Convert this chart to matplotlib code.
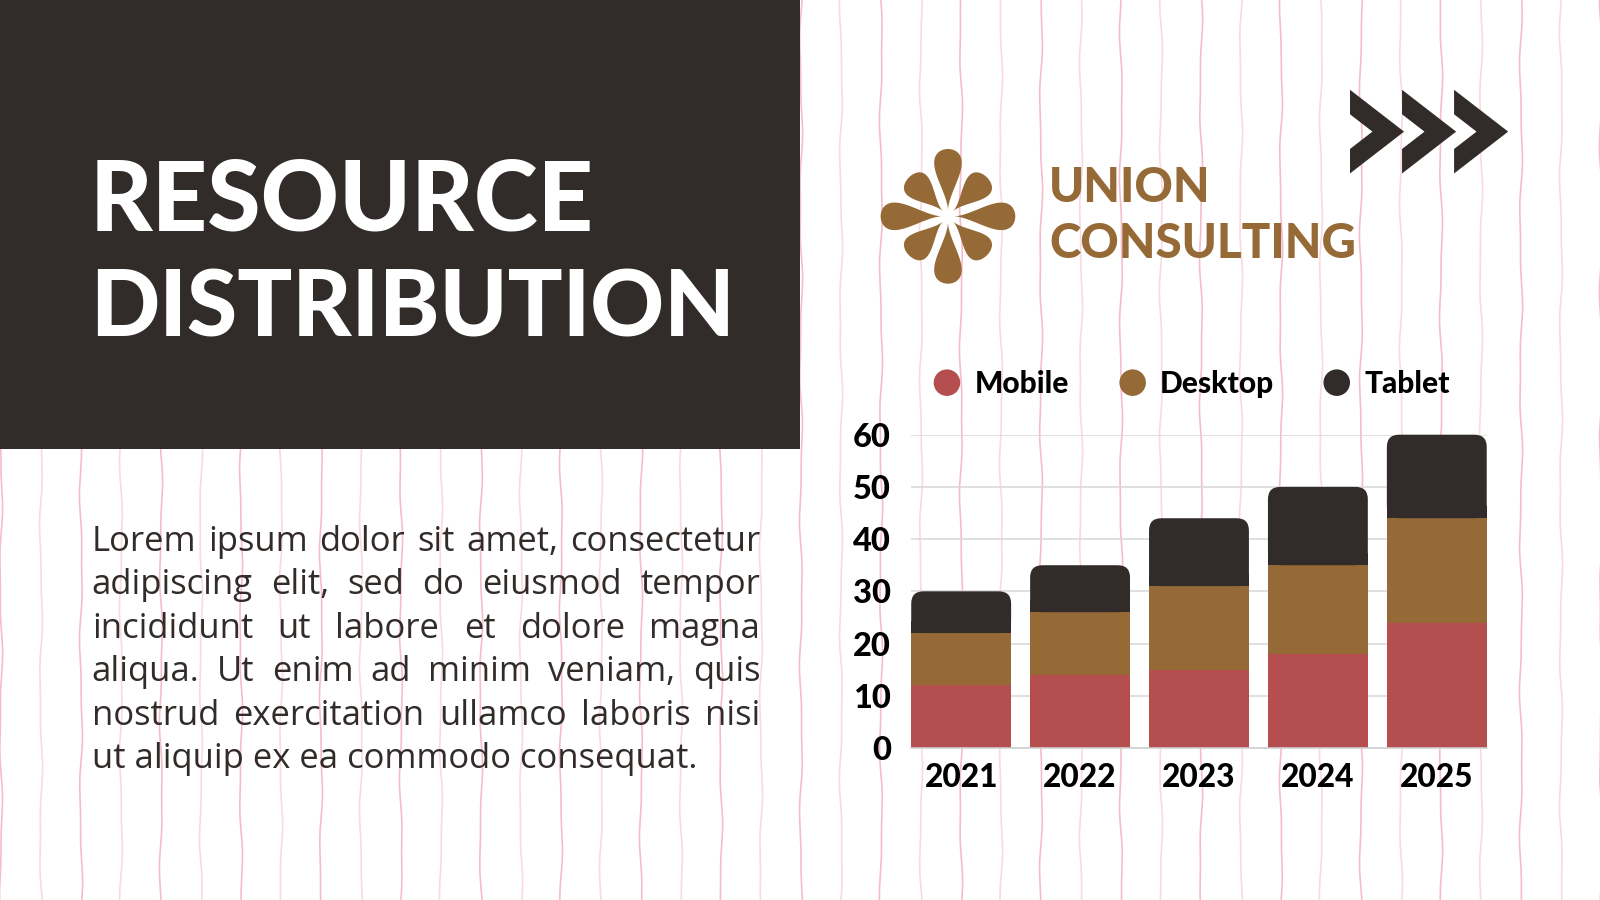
import matplotlib
matplotlib.use('Agg')
import matplotlib.pyplot as plt
import numpy as np
from matplotlib.patches import Rectangle, FancyBboxPatch, Circle, Polygon

# ---------------- data ----------------
years = ['2021', '2022', '2023', '2024', '2025']
mobile = [12, 14, 15, 18, 24]
desktop = [10, 12, 16, 17, 20]
tablet = [8, 9, 13, 15, 16]
series_names = ['Mobile', 'Desktop', 'Tablet']
y_ticks = [0, 10, 20, 30, 40, 50, 60]
title_lines = ['RESOURCE', 'DISTRIBUTION']
brand_lines = ['UNION', 'CONSULTING']
paragraph_lines = [
    "Lorem ipsum dolor sit amet, consectetur",
    "adipiscing elit, sed do eiusmod tempor",
    "incididunt ut labore et dolore magna",
    "aliqua. Ut enim ad minim veniam, quis",
    "nostrud exercitation ullamco laboris nisi",
    "ut aliquip ex ea commodo consequat.",
]

# ---------------- style ----------------
DARK = '#312c29'
BROWN = '#956a36'
RED = '#b54f4f'
series_colors = [RED, BROWN, DARK]
HEAD_FONT = 'Lato'
BODY_FONT = 'Open Sans'

W, H = 1568, 882          # layout coordinate system
fig = plt.figure(figsize=(16, 9), dpi=100)
fig.patch.set_facecolor('white')
S = 1600 / W              # output px per layout px

bg = fig.add_axes([0, 0, 1, 1])
bg.set_xlim(0, W)
bg.set_ylim(H, 0)
bg.axis('off')
renderer = fig.canvas.get_renderer()


def text_w(t):
    return t.get_window_extent(renderer).width / S


def fit(t, target):
    fs0 = t.get_fontsize()
    t.set_fontsize(fs0 * target / text_w(t))
    return t.get_fontsize()


# background hand-drawn pink lines
ys = np.linspace(0, H, 500)
for k in range(41):
    x0 = 1.0 + k * 39.2
    xs = x0 + 1.1 * np.sin(ys / 24.0 + k * 1.7) + 0.5 * np.sin(ys / 11.0 + k * 2.3)
    col = '#f6bccd' if k % 2 == 0 else '#fad9e2'
    bg.plot(xs, ys, color=col, lw=1.2, zorder=0)

# dark panel
bg.add_patch(Rectangle((0, 0), 784, 440, facecolor=DARK, edgecolor='none', zorder=2))

# title
t2 = bg.text(88, 330, title_lines[1], color='white', fontfamily=HEAD_FONT,
             fontweight='black', fontsize=60, va='baseline', ha='left', zorder=3)
fit(t2, 634)
t1 = bg.text(88, 226, title_lines[0], color='white', fontfamily=HEAD_FONT,
             fontweight='black', fontsize=60, va='baseline', ha='left', zorder=3)
fit(t1, 494)

# paragraph (justified)
PX0, PX1 = 90, 745
tmp = bg.text(0, 0, paragraph_lines[-1], fontfamily=BODY_FONT, fontsize=20)
fs_body = 20 * 592 / text_w(tmp)
tmp.remove()
base0, lead = 540, 42.6
for i, line in enumerate(paragraph_lines):
    yb = base0 + i * lead
    if i == len(paragraph_lines) - 1:
        bg.text(PX0, yb, line, fontfamily=BODY_FONT, fontsize=fs_body,
                color=DARK, va='baseline', ha='left', zorder=3)
        continue
    words = line.split(' ')
    objs = []
    widths = []
    for wd in words:
        t = bg.text(0, yb, wd, fontfamily=BODY_FONT, fontsize=fs_body,
                    color=DARK, va='baseline', ha='left', zorder=3)
        objs.append(t)
        widths.append(text_w(t))
    gap = (PX1 - PX0 - sum(widths)) / (len(words) - 1)
    xcur = PX0
    for t, wdt in zip(objs, widths):
        t.set_x(xcur)
        xcur += wdt + gap

# flower logo
FCX, FCY = 929, 212


def petal(ang_deg, r0, L, hw, m=2.4):
    t = np.linspace(0, 2 * np.pi, 240)
    u = r0 + (1 - np.cos(t)) / 2 * L
    v = np.sin(t) * np.sin(t / 2) ** m
    v = v / np.abs(v).max() * hw
    a = np.deg2rad(ang_deg)
    px = FCX + u * np.cos(a) - v * np.sin(a)
    py = FCY + u * np.sin(a) + v * np.cos(a)
    return np.column_stack([px, py])


for ang in range(0, 360, 45):
    if ang % 90 == 0:
        pts = petal(ang, 6, 60, 13.5)
    else:
        pts = petal(ang, 7, 47, 13.5)
    bg.add_patch(Polygon(pts, closed=True, facecolor=BROWN, edgecolor='none', zorder=3))

# brand text
tb = bg.text(1028, 253, brand_lines[1], color=BROWN, fontfamily=HEAD_FONT,
             fontweight='black', fontsize=30, va='baseline', ha='left', zorder=3)
fs_brand = fit(tb, 300)
bg.text(1028, 198, brand_lines[0], color=BROWN, fontfamily=HEAD_FONT,
        fontweight='black', fontsize=fs_brand, va='baseline', ha='left', zorder=3)

# chevrons
for i in range(3):
    x0 = 1323 + 51 * i
    pts = [(x0, 88), (x0 + 53, 129), (x0, 170), (x0, 146), (x0 + 22, 129), (x0, 112)]
    bg.add_patch(Polygon(pts, closed=True, facecolor=DARK, edgecolor='none', zorder=3))

# legend
leg_circle_x = [928, 1110, 1310]
leg_fs = None
for name, col, cx in zip(series_names, series_colors, leg_circle_x):
    bg.add_patch(Circle((cx, 375), 13, facecolor=col, edgecolor='none', zorder=3))
    t = bg.text(cx + 27, 385, name, fontfamily=HEAD_FONT, fontweight='black',
                fontsize=22 if leg_fs is None else leg_fs, color='black',
                va='baseline', ha='left', zorder=3)
    if leg_fs is None:
        leg_fs = fit(t, 92)

# ---------------- chart ----------------
AX_L, AX_R, AX_B, AX_T = 893, 1457, 733, 426
ax = fig.add_axes([AX_L / W, 1 - AX_B / H, (AX_R - AX_L) / W, (AX_B - AX_T) / H])
ax.patch.set_alpha(0)
xpos = np.arange(len(years))
BW = 0.84
ax.bar(xpos, mobile, width=BW, color=RED, zorder=2)
ax.bar(xpos, desktop, bottom=mobile, width=BW, color=BROWN, zorder=2)
b3 = ax.bar(xpos, tablet, bottom=np.add(mobile, desktop), width=BW, color=DARK, zorder=2)
ax.set_xlim(-BW / 2, len(years) - 1 + BW / 2)
ax.set_ylim(0, 60)

xspan = len(years) - 1 + BW
asp = (60 / (AX_B - AX_T)) / (xspan / (AX_R - AX_L))
rr = 12 * xspan / (AX_R - AX_L)
for rect in b3.patches:
    x0, y0 = rect.get_x(), rect.get_y()
    w, h = rect.get_width(), rect.get_height()
    rect.set_visible(False)
    ax.add_patch(FancyBboxPatch((x0, y0), w, h,
                                boxstyle=f'round,pad=0,rounding_size={rr}',
                                mutation_aspect=asp, facecolor=DARK,
                                edgecolor='none', zorder=2, clip_on=False))
    ax.add_patch(Rectangle((x0, y0), w, rr * asp, facecolor=DARK,
                           edgecolor='none', zorder=2))

ax.set_yticks(y_ticks)
ax.yaxis.grid(True, color='#dadada', lw=1.2)
ax.set_axisbelow(True)
for s in ['top', 'right', 'left']:
    ax.spines[s].set_visible(False)
ax.spines['bottom'].set_color('#d0d0d0')
ax.spines['bottom'].set_linewidth(1.2)

tmpx = bg.text(0, 0, years[0], fontfamily=HEAD_FONT, fontweight='black', fontsize=20)
fs_x = 20 * 72 / text_w(tmpx)
tmpx.remove()
tmpy = bg.text(0, 0, '60', fontfamily=HEAD_FONT, fontweight='black', fontsize=20)
fs_y = 20 * 37 / text_w(tmpy)
tmpy.remove()

ax.set_xticks(xpos)
ax.set_xticklabels(years, fontfamily=HEAD_FONT, fontweight='black', fontsize=fs_x, color='black')
ax.set_yticklabels([str(v) for v in y_ticks], fontfamily=HEAD_FONT, fontweight='black',
                   fontsize=fs_y, color='black')
ax.tick_params(axis='y', length=0, pad=20 * S * 0.72)
ax.tick_params(axis='x', length=0, pad=15 * S * 0.72)

fig.savefig('out.png', dpi=100, facecolor='white')
